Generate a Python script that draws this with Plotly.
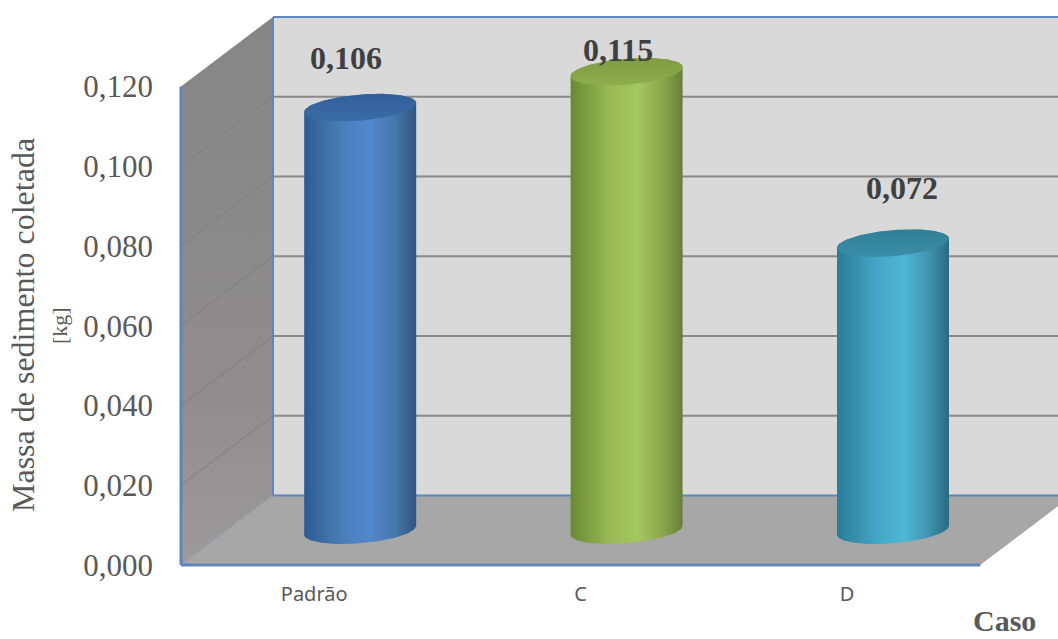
import numpy as np
import plotly.graph_objects as go

# Sediment mass collected per case
categories = ["Padrão", "C", "D"]
values = [0.106, 0.115, 0.072]
tick_values = [0.0, 0.02, 0.04, 0.06, 0.08, 0.10, 0.12]

# Lateral gradient for each cylinder body and its top cap
body_colors = [
    [[0, "#2b5a90"], [0.12, "#38699f"], [0.35, "#4a7fba"], [0.6, "#5289cc"], [0.82, "#4675a8"], [1, "#2f5480"]],
    [[0, "#6a8934"], [0.12, "#7a9a3f"], [0.35, "#98b955"], [0.6, "#a5c760"], [0.82, "#8ba74e"], [1, "#667f38"]],
    [[0, "#2c7d98"], [0.12, "#3289a6"], [0.35, "#44a6c5"], [0.6, "#4fb6d6"], [0.82, "#3f93ae"], [1, "#2b6a82"]],
]
cap_colors = [
    [[0, "#3a6ba5"], [1, "#33609a"]],
    [[0, "#8eae4e"], [1, "#7f9c42"]],
    [[0, "#3a8da8"], [1, "#338097"]],
]
label_lift_px = [50, 22, 55]
label_nudge_px = [-14, -9, 9]

# Pixel scale of the axes and the oblique depth of the 3D box
PX_X = 266.4
PX_Y = 478.5 / 0.12
DEPTH_X = 92 / PX_X
DEPTH_Y = 69.5 / PX_Y
X0, X1 = -0.5, 2.5
XMAX = X0 + (1058 - 181) / PX_X
HALF_W = 56 / PX_X
TILT = 4.5 / PX_Y
MINOR = 13 / PX_Y
BLUE = "#5f86bb"


def poly(xs, ys, fill=None, gradient=None):
    kw = {"fillgradient": gradient} if gradient else {"fillcolor": fill}
    return go.Scatter(x=xs, y=ys, mode="lines", fill="toself", line=dict(width=0),
                      hoverinfo="skip", showlegend=False, **kw)


def seg(xs, ys, color, width):
    return go.Scatter(x=xs, y=ys, mode="lines", line=dict(color=color, width=width),
                      hoverinfo="skip", showlegend=False)


def rim(cx, cy, t):
    """Tilted ellipse around (cx, cy) at angles t."""
    return cx + HALF_W * np.cos(t), cy + TILT * np.cos(t) + MINOR * np.sin(t)


fig = go.Figure()
ytop = tick_values[-1]

# Back wall, side wall and floor
fig.add_trace(poly([X0 + DEPTH_X, XMAX + 0.1, XMAX + 0.1, X0 + DEPTH_X],
                   [DEPTH_Y, DEPTH_Y, ytop + DEPTH_Y, ytop + DEPTH_Y], fill="#d9d9d9"))
fig.add_trace(poly([X0, X0 + DEPTH_X, X0 + DEPTH_X, X0], [0, DEPTH_Y, ytop + DEPTH_Y, ytop],
                   gradient=dict(type="vertical",
                                 colorscale=[[0, "#9c9a9a"], [0.3, "#8f8d8d"], [1, "#868686"]])))
fig.add_trace(poly([X0, X1, X1 + DEPTH_X, X0 + DEPTH_X], [0, 0, DEPTH_Y, DEPTH_Y], fill="#a8a7a7"))

# Gridlines run along the back wall and fold down the side wall
for v in tick_values[1:-1]:
    fig.add_trace(seg([X0 + DEPTH_X, XMAX + 0.1], [v + DEPTH_Y] * 2, "#8a8a8a", 2))
    fig.add_trace(seg([X0, X0 + DEPTH_X], [v, v + DEPTH_Y], "#7e7e7e", 1))

# Blue box edges
fig.add_trace(seg([X0 + DEPTH_X, XMAX + 0.1], [ytop + DEPTH_Y] * 2, BLUE, 2))
fig.add_trace(seg([X0 + DEPTH_X, XMAX + 0.1], [DEPTH_Y] * 2, BLUE, 2))
fig.add_trace(seg([X0 + DEPTH_X] * 2, [DEPTH_Y, ytop + DEPTH_Y], BLUE, 2))
fig.add_trace(seg([X0, X0 + DEPTH_X], [0, DEPTH_Y], "#8fa0b8", 1))
fig.add_trace(seg([X0, X0], [0, ytop], BLUE, 3))
fig.add_trace(seg([X0, X1], [0, 0], BLUE, 3))

# Cylinders stand halfway through the depth of the box
for i, v in enumerate(values):
    cx = i + DEPTH_X / 2
    base = DEPTH_Y / 2
    bx, by = rim(cx, base, np.linspace(np.pi, 2 * np.pi, 60))
    tx, ty = rim(cx, base + v, np.linspace(0, np.pi, 60))
    fig.add_trace(poly(np.r_[bx, tx], np.r_[by, ty],
                       gradient=dict(type="horizontal", colorscale=body_colors[i])))
    rx, ry = rim(cx, base + v, np.linspace(0, 2 * np.pi, 120))
    fig.add_trace(poly(rx, ry, gradient=dict(type="vertical", colorscale=cap_colors[i])))

annotations = []
for i, v in enumerate(values):
    annotations.append(dict(
        x=i + DEPTH_X / 2, y=DEPTH_Y / 2 + v, xref="x", yref="y",
        text=f"<b>{v:.3f}</b>".replace(".", ","), showarrow=False,
        xshift=label_nudge_px[i], yshift=label_lift_px[i],
        font=dict(family="Liberation Serif", size=32, color="#404040"),
    ))

# Axis captions placed in page pixels relative to the plot area
PLOT_L, PLOT_W, PLOT_T, PLOT_H = 176, 882, 10, 560


def px(x):
    return (x - PLOT_L) / PLOT_W


def py(y):
    return 1 - (y - PLOT_T) / PLOT_H


caption = dict(xref="paper", yref="paper", showarrow=False, xanchor="center", yanchor="middle")
annotations += [
    dict(x=px(23), y=py(325), text="Massa de sedimento coletada", textangle=-90,
         font=dict(family="Liberation Serif", size=32, color="#595959"), **caption),
    dict(x=px(59), y=py(325), text="[kg]", textangle=-90,
         font=dict(family="Liberation Serif", size=22, color="#595959"), **caption),
    dict(x=px(1004), y=py(620), text="<b>Caso</b>",
         font=dict(family="Liberation Serif", size=30, color="#595959"), **caption),
]

fig.update_layout(
    width=1058, height=639,
    margin=dict(l=PLOT_L, r=0, t=PLOT_T, b=639 - PLOT_T - PLOT_H, pad=0),
    paper_bgcolor="white", plot_bgcolor="white",
    separators=", ",
    showlegend=False,
    annotations=annotations,
    xaxis=dict(
        range=[X0 - 5 / PX_X, XMAX], tickmode="array", tickvals=[0, 1, 2], ticktext=categories,
        showgrid=False, zeroline=False, showline=False, ticks="",
        tickfont=dict(family="Noto Sans", size=20, color="#595959"), ticklabelstandoff=10,
    ),
    yaxis=dict(
        range=[-5 / PX_Y, (565 - PLOT_T) / PX_Y], tickmode="array", tickvals=tick_values,
        tickformat=".3f", showgrid=False, zeroline=False, showline=False, ticks="",
        tickfont=dict(family="Liberation Serif", size=31, color="#595959"), ticklabelstandoff=22,
    ),
)

fig.write_html("out.html")
